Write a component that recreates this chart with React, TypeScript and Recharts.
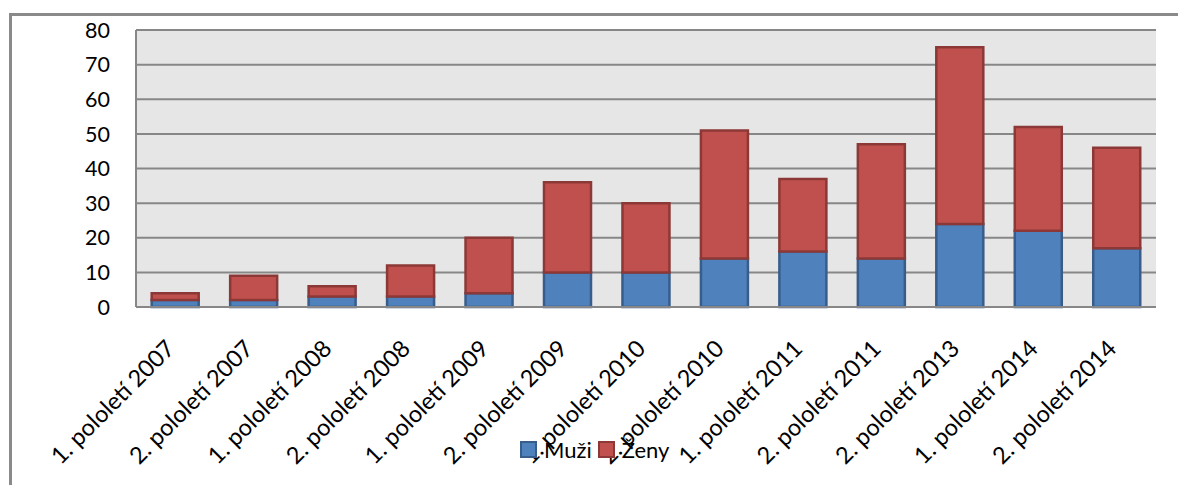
import { BarChart, Bar, XAxis, YAxis, CartesianGrid, Legend } from "recharts";

const periods = [
  "1. pololetí 2007",
  "2. pololetí 2007",
  "1. pololetí 2008",
  "2. pololetí 2008",
  "1. pololetí 2009",
  "2. pololetí 2009",
  "1. pololetí 2010",
  "2. pololetí 2010",
  "1. pololetí 2011",
  "2. pololetí 2011",
  "2. pololetí 2013",
  "1. pololetí 2014",
  "2. pololetí 2014",
];
const muzi = [2, 2, 3, 3, 4, 10, 10, 14, 16, 14, 24, 22, 17];
const zeny = [2, 7, 3, 9, 16, 26, 20, 37, 21, 33, 51, 30, 29];
const yTicks = [0, 10, 20, 30, 40, 50, 60, 70, 80];

const data = periods.map((p, i) => ({ period: p, muzi: muzi[i], zeny: zeny[i] }));

const FONT = "Lato, 'Open Sans', sans-serif";
const COLORS = {
  muzi: { fill: "#4f81bd", stroke: "#385d8a" },
  zeny: { fill: "#c0504d", stroke: "#8c3836" },
};

function SlantTick({ x, y, payload }: { x?: number; y?: number; payload?: { value: string } }) {
  const tx = (x ?? 0) + 1;
  const ty = (y ?? 0) + 43;
  return (
    <text
      x={tx}
      y={ty}
      transform={`rotate(-45, ${tx}, ${ty})`}
      textAnchor="end"
      fill="#000"
      fontSize={23.5}
      fontFamily={FONT}
    >
      {payload?.value}
    </text>
  );
}

function LegendBox() {
  const items = [
    { name: "Muži", c: COLORS.muzi },
    { name: "Ženy", c: COLORS.zeny },
  ];
  return (
    <div style={{ display: "flex", alignItems: "center", fontFamily: FONT, fontSize: 22, color: "#000" }}>
      {items.map((it) => (
        <div key={it.name} style={{ display: "flex", alignItems: "center", marginRight: 6 }}>
          <span
            style={{
              display: "inline-block",
              width: 13,
              height: 13,
              background: it.c.fill,
              border: `2px solid ${it.c.stroke}`,
              marginRight: 7,
            }}
          />
          <span>{it.name}</span>
        </div>
      ))}
    </div>
  );
}

export default function App() {
  return (
    <div
      style={{
        position: "absolute",
        left: 0,
        top: 0,
        width: 1178,
        height: 485,
        overflow: "hidden",
        background: "#fff",
      }}
    >
      <div
        style={{
          position: "absolute",
          left: 9,
          top: 13,
          width: 1169,
          height: 472,
          borderLeft: "3px solid #8a8a8a",
          borderTop: "3px solid #8a8a8a",
          boxSizing: "border-box",
        }}
      />
      <div style={{ position: "absolute", left: 0, top: 0 }}>
        <BarChart
          width={1178}
          height={485}
          data={data}
          margin={{ top: 30, right: 22, bottom: 0, left: 0 }}
          barCategoryGap="20%"
        >
          <CartesianGrid vertical={false} fill="#e6e6e6" stroke="#878787" strokeWidth={2} />
          <XAxis
            dataKey="period"
            height={178}
            interval={0}
            tickSize={0}
            tickMargin={0}
            axisLine={{ stroke: "#878787", strokeWidth: 2 }}
            tick={<SlantTick />}
          />
          <YAxis
            width={136}
            domain={[0, 80]}
            ticks={yTicks}
            interval={0}
            tickSize={0}
            tickMargin={26}
            tickLine={false}
            axisLine={{ stroke: "#878787", strokeWidth: 2 }}
            tick={{ fill: "#000", fontSize: 21.5, fontFamily: FONT }}
          />
          <Bar
            dataKey="muzi"
            name="Muži"
            stackId="a"
            fill={COLORS.muzi.fill}
            stroke={COLORS.muzi.stroke}
            strokeWidth={2.5}
            isAnimationActive={false}
          />
          <Bar
            dataKey="zeny"
            name="Ženy"
            stackId="a"
            fill={COLORS.zeny.fill}
            stroke={COLORS.zeny.stroke}
            strokeWidth={2.5}
            isAnimationActive={false}
          />
          <Legend
            layout="horizontal"
            verticalAlign="middle"
            align="center"
            content={<LegendBox />}
            wrapperStyle={{ left: 520, top: 436, width: "auto" }}
          />
        </BarChart>
      </div>
    </div>
  );
}
